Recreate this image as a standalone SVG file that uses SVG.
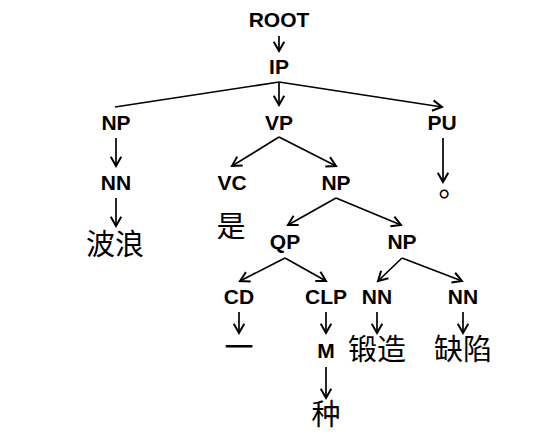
<svg xmlns="http://www.w3.org/2000/svg" width="554" height="440" viewBox="0 0 554 440">
<style>
.t{font-family:"Liberation Sans",Arial,sans-serif;font-weight:bold;font-size:21px;fill:#000;text-anchor:middle}
.c{font-family:"Noto Sans CJK SC",sans-serif;font-size:29px;font-weight:400;fill:#000;text-anchor:middle}
.e{stroke:#000;stroke-width:1.7;fill:none;marker-end:url(#a)}
</style>
<defs>
<marker id="a" markerUnits="userSpaceOnUse" markerWidth="14" markerHeight="14" refX="10" refY="6" orient="auto" viewBox="0 0 12 12">
<polyline points="2,1.5 10,6 2,10.5" fill="none" stroke="#000" stroke-width="1.7"/>
</marker>
</defs>
<rect width="554" height="440" fill="#fff"/>
<g id="edges">
<line class="e" x1="279" y1="36" x2="279" y2="51"/>
<line class="e" x1="279" y1="82" x2="279" y2="105"/>
<line class="e" x1="279" y1="82" x2="115" y2="107" style="marker-end:none"/>
<line class="e" x1="279" y1="82" x2="442" y2="107"/>
<line class="e" x1="116" y1="138" x2="116" y2="166"/>
<line class="e" x1="116" y1="198" x2="116" y2="226"/>
<line class="e" x1="279" y1="137" x2="232" y2="166"/>
<line class="e" x1="279" y1="137" x2="336" y2="166"/>
<line class="e" x1="443" y1="138" x2="443" y2="182"/>
<line class="e" x1="336" y1="198" x2="288" y2="225"/>
<line class="e" x1="336" y1="198" x2="401" y2="225"/>
<line class="e" x1="285" y1="258" x2="240" y2="281"/>
<line class="e" x1="285" y1="258" x2="326" y2="281"/>
<line class="e" x1="402" y1="258" x2="378" y2="281"/>
<line class="e" x1="402" y1="258" x2="462" y2="281"/>
<line class="e" x1="239" y1="312" x2="239" y2="333"/>
<line class="e" x1="326" y1="312" x2="326" y2="333"/>
<line class="e" x1="377" y1="312" x2="377" y2="333"/>
<line class="e" x1="463" y1="312" x2="463" y2="333"/>
<line class="e" x1="326" y1="367" x2="326" y2="398"/>
</g>
<g id="root"><text class="t" x="279" y="27">ROOT</text></g>
<g id="ip"><text class="t" x="279" y="74">IP</text></g>
<g id="np1"><text class="t" x="116" y="130">NP</text></g>
<g id="vp"><text class="t" x="279" y="130">VP</text></g>
<g id="pu"><text class="t" x="442" y="130">PU</text></g>
<g id="nn1"><text class="t" x="116" y="190">NN</text></g>
<g id="vc"><text class="t" x="232" y="190">VC</text></g>
<g id="np2"><text class="t" x="336" y="190">NP</text></g>
<g id="w_period"><text class="c" x="453" y="197">。</text></g>
<g id="w_bolang"><text class="c" x="115" y="255">波浪</text></g>
<g id="w_shi"><text class="c" x="231" y="237">是</text></g>
<g id="qp"><text class="t" x="285" y="249">QP</text></g>
<g id="np3"><text class="t" x="402" y="249">NP</text></g>
<g id="cd"><text class="t" x="239" y="304">CD</text></g>
<g id="clp"><text class="t" x="326" y="304">CLP</text></g>
<g id="nn2"><text class="t" x="377" y="304">NN</text></g>
<g id="nn3"><text class="t" x="463" y="304">NN</text></g>
<g id="w_yi"><text class="c" x="239" y="358">一</text></g>
<g id="m"><text class="t" x="326" y="358">M</text></g>
<g id="w_duanzao"><text class="c" x="377" y="360">锻造</text></g>
<g id="w_quexian"><text class="c" x="463" y="360">缺陷</text></g>
<g id="w_zhong"><text class="c" x="326" y="425">种</text></g>
</svg>
